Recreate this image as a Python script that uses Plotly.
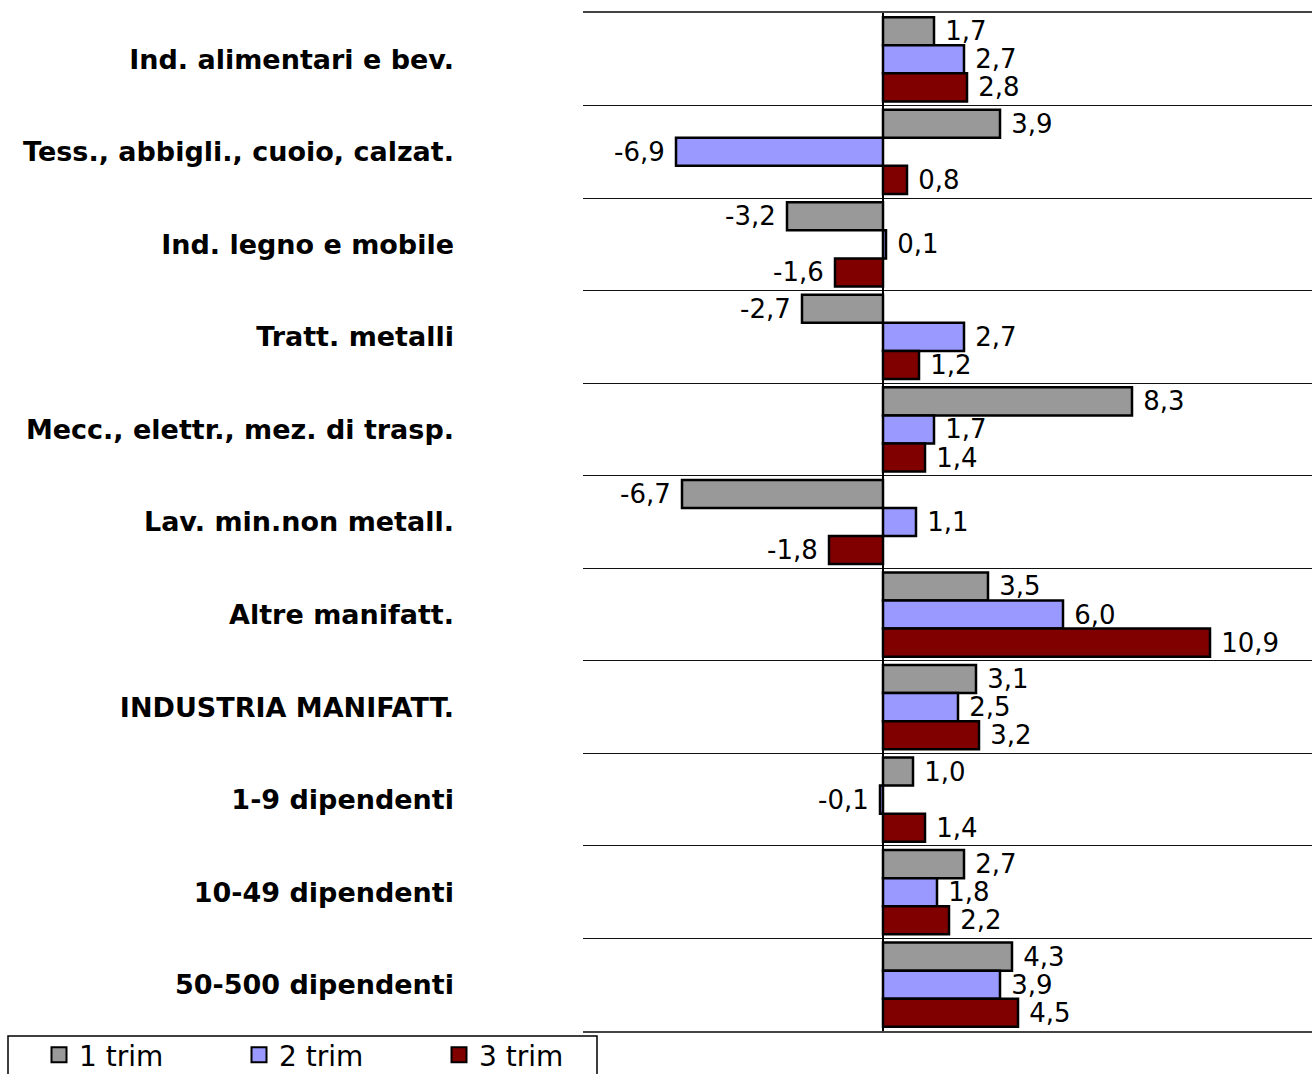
import plotly.graph_objects as go

categories = [
    "Ind. alimentari e bev.",
    "Tess., abbigli., cuoio, calzat.",
    "Ind. legno e mobile",
    "Tratt. metalli",
    "Mecc., elettr., mez. di trasp.",
    "Lav. min.non metall.",
    "Altre manifatt.",
    "INDUSTRIA MANIFATT.",
    "1-9 dipendenti",
    "10-49 dipendenti",
    "50-500 dipendenti",
]
trim1 = [1.7, 3.9, -3.2, -2.7, 8.3, -6.7, 3.5, 3.1, 1.0, 2.7, 4.3]
trim2 = [2.7, -6.9, 0.1, 2.7, 1.7, 1.1, 6.0, 2.5, -0.1, 1.8, 3.9]
trim3 = [2.8, 0.8, -1.6, 1.2, 1.4, -1.8, 10.9, 3.2, 1.4, 2.2, 4.5]
series_names = ["1 trim", "2 trim", "3 trim"]
colors = ["#999999", "#9999FF", "#800000"]

FONT = "DejaVu Sans"


def fmt(v):
    s = f"{v:.1f}".replace(".", ",")
    return (" " + s) if v >= 0 else (s + " ")


fig = go.Figure()
for name, vals, col in zip(series_names, [trim1, trim2, trim3], colors):
    fig.add_trace(go.Bar(
        y=categories, x=vals, orientation="h", name=name,
        marker=dict(color=col, line=dict(color="black", width=2.5)),
        text=[fmt(v) for v in vals], textposition="outside",
        textfont=dict(family=FONT, size=26, color="black"),
        constraintext="none", cliponaxis=False, showlegend=False,
    ))
# legend entries (square swatches)
for name, col in zip(series_names, colors):
    fig.add_trace(go.Scatter(
        x=[None], y=[None], mode="markers", name=name,
        marker=dict(symbol="square", size=15, color=col,
                    line=dict(color="black", width=2)),
        showlegend=True,
    ))

W, H = 1312, 1074
L, R, T, B = 583, 0, 13, 43
pw, ph = W - L - R, H - T - B

fig.update_layout(
    width=W, height=H,
    margin=dict(l=L, r=R, t=T, b=B, autoexpand=False),
    paper_bgcolor="white", plot_bgcolor="white",
    barmode="group", bargap=0.09, bargroupgap=0,
    showlegend=True,
    legend=dict(
        orientation="h", x=(39 - L) / pw, xanchor="left",
        y=0.001, yanchor="top",
        borderwidth=0, bgcolor="rgba(0,0,0,0)",
        font=dict(family=FONT, size=28, color="black"),
        entrywidth=155, traceorder="normal",
    ),
    xaxis=dict(range=[-10, 14.3], showticklabels=False, showgrid=False,
               zeroline=True, zerolinecolor="black", zerolinewidth=1.5,
               ticks="", showline=True, mirror=True, linecolor="#444444",
               linewidth=1.5),
    yaxis=dict(autorange="reversed", tickson="boundaries", showgrid=True,
               gridcolor="#111111", gridwidth=1.3, ticks="",
               ticklabelstandoff=128,
               tickfont=dict(family=FONT, size=27, color="black",
                             weight="bold")),
    font=dict(family=FONT),
    shapes=[dict(type="rect", xref="paper", yref="paper",
                 x0=(8 - L) / pw, x1=(597 - L) / pw,
                 y0=(T + ph - 1036) / ph, y1=(T + ph - 1110) / ph,
                 line=dict(color="black", width=1.5), fillcolor="rgba(0,0,0,0)",
                 layer="below")],
)

fig.write_html(
    "out.html",
    config={"displayModeBar": False},
    post_script="document.body.style.margin='0';document.body.style.overflow='hidden';",
)
